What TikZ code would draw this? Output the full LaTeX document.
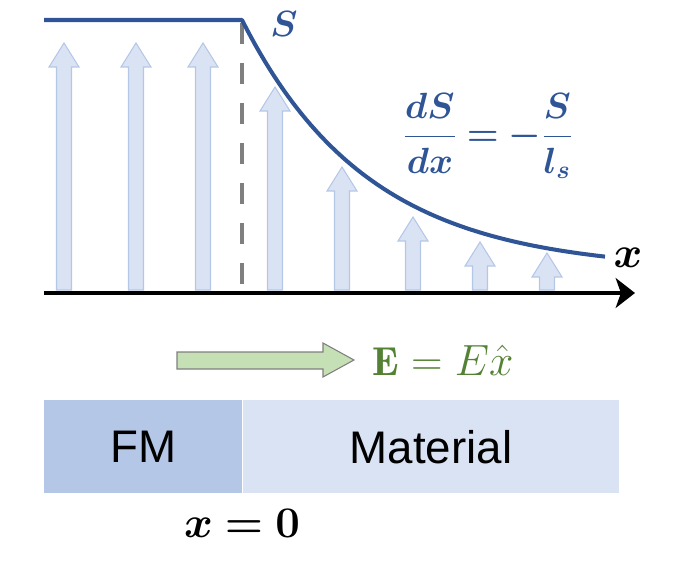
\documentclass[tikz,border=0pt]{standalone}
\usepackage{amsmath}
\usepackage{bm}
\usepackage{fontspec}
\setsansfont{Liberation Sans}
\usepackage{tikz}
\usetikzlibrary{arrows.meta, positioning}
\definecolor{curveblue}{HTML}{2F5597}
\definecolor{upfill}{HTML}{DAE3F3}
\definecolor{upline}{HTML}{B4C7E7}
\definecolor{fmblue}{HTML}{B4C7E7}
\definecolor{dashgray}{HTML}{7F7F7F}
\definecolor{fieldgreen}{HTML}{548235}
\definecolor{fieldfill}{HTML}{C5E0B4}

\begin{document}
\begin{tikzpicture}[x=0.02cm, y=-0.02cm,
    upar/.style={fill=upfill, draw=upline, line width=0.6pt},
    region/.style={rectangle, anchor=north west, inner sep=0pt, minimum height=1.86cm, text=black, font=\fontsize{26}{30}\selectfont\sffamily},
    mathlbl/.style={inner sep=0pt, font=\fontsize{#1}{#1}\selectfont}
]
    \useasboundingbox (0,0) rectangle (673,564);

    % spin density arrows
    \foreach \ax/\tip in {64/43, 136/43, 203/43, 275/87, 342/167, 413/217, 480/242, 547/253}
        \draw[upar] (\ax-7.5,290) -- (\ax-7.5,\tip+24) -- (\ax-15,\tip+24) -- (\ax,\tip)
            -- (\ax+15,\tip+24) -- (\ax+7.5,\tip+24) -- (\ax+7.5,290) -- cycle;

    \coordinate (o) at (44,293);
    \coordinate (xend) at (635,293);
    \coordinate (itop) at (242,20);
    \coordinate (ibot) at (242,286);

    \draw[draw=dashgray, line width=2pt, dash pattern=on 12pt off 10.8pt, dash phase=-1.5pt] (itop) -- (ibot);
    \draw[curveblue, line width=2.3pt, line join=round] (44,20) -- (itop)
        -- plot[domain=242:605, samples=80] (\x, {293-22-251*exp(-(\x-242)/127)});
    \draw[-{Stealth[length=11pt, width=17pt, inset=3pt]}, line width=2.3pt] (o) -- (xend);

    \node[mathlbl=22, text=curveblue] (slbl) at (284,24) {$\bm{S}$};
    \node[mathlbl=24] (xlbl) at (628,258) {$\bm{x}$};
    \node[mathlbl=21.5, text=curveblue] (eqn) at (488,136) {$\displaystyle\bm{\frac{dS}{dx} = -\frac{S}{l_s}}$};

    % applied field
    \draw[fill=fieldfill, draw=dashgray, line width=0.6pt] (177,352) -- (323,352) -- (323,343) -- (354,360)
        -- (323,377) -- (323,369) -- (177,369) -- cycle;
    \node[mathlbl=23, text=fieldgreen] (efield) at (443,360) {$\mathbf{E} = E\hat{x}$};

    \node[region, fill=fmblue, minimum width=3.96cm] (fm) at (44,400) {FM};
    \node[region, fill=upfill, minimum width=7.52cm] (mat) at (fm.north east) {Material};
    \node[mathlbl=25] (xzero) at (242,523) {$\bm{x=0}$};
\end{tikzpicture}
\end{document}
